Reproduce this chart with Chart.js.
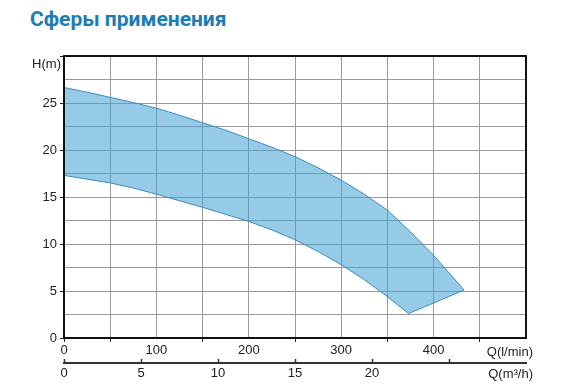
<!DOCTYPE html>
<html>
<head>
<meta charset="utf-8">
<script src="https://cdn.jsdelivr.net/npm/chart.js@4/dist/chart.umd.min.js"></script>
<style>
  html, body { margin: 0; padding: 0; background: #fff; }
  #wrap { position: relative; width: 587px; height: 392px; }
  #title {
    position: absolute; left: 30px; top: 7px;
    font: bold 21px Roboto, 'Noto Sans', sans-serif;
    color: #1b7db5; white-space: nowrap;
  }
  canvas { position: absolute; left: 0; top: 0; }
</style>
</head>
<body>
<div id="wrap">
  <div id="title">Сферы применения</div>
  <canvas id="chart" width="587" height="392"></canvas>
</div>
<script>
// upper edge of the working range, Q in l/min, H in m
const flowUpper = [0, 25, 50, 75, 100, 125, 150, 175, 200, 225, 250, 275, 300, 325, 350, 375, 400, 433];
const headUpper = [26.65, 26.15, 25.6, 25.05, 24.45, 23.7, 22.9, 22.1, 21.2, 20.3, 19.3, 18.1, 16.8, 15.3, 13.6, 11.3, 8.8, 5.1];
// lower edge
const flowLower = [0, 25, 50, 75, 100, 125, 150, 175, 200, 225, 250, 275, 300, 325, 350, 373];
const headLower = [17.3, 16.9, 16.5, 15.95, 15.3, 14.6, 13.9, 13.15, 12.4, 11.5, 10.45, 9.2, 7.8, 6.2, 4.4, 2.6];

const flowTicksLpm = [0, 100, 200, 300, 400];
const flowTicksM3h = [0, 5, 10, 15, 20];
const headTicks = [0, 5, 10, 15, 20, 25];

const labelFont = { family: 'Liberation Sans, Arial, sans-serif', size: 13 };
const gridColor = '#9a9a9a';

// closed outline: upper edge forward, lower edge back
const outline = [];
flowUpper.forEach((q, i) => outline.push({ x: q, y: headUpper[i] }));
for (let i = flowLower.length - 1; i >= 0; i--) outline.push({ x: flowLower[i], y: headLower[i] });
outline.push({ x: flowUpper[0], y: headUpper[0] });

const extras = {
  id: 'extras',
  afterDraw(chart) {
    const { ctx, chartArea: a, scales } = chart;
    ctx.save();
    // frame around plot
    ctx.strokeStyle = '#111';
    ctx.lineWidth = 2;
    ctx.strokeRect(a.left, a.top, a.right - a.left, a.bottom - a.top);

    // small upward ticks on the m3/h axis
    const x2 = scales.x2;
    ctx.strokeStyle = '#333';
    ctx.lineWidth = 1.5;
    for (let v = 0; v <= 25; v += 5) {
      const px = Math.round(x2.getPixelForValue(v)) + 0.5;
      ctx.beginPath();
      ctx.moveTo(px, x2.top);
      ctx.lineTo(px, x2.top - 4);
      ctx.stroke();
    }

    ctx.fillStyle = '#222';
    ctx.font = '13px Liberation Sans, Arial, sans-serif';
    ctx.textBaseline = 'middle';
    ctx.textAlign = 'right';
    ctx.fillText('H(m)', a.left - 3, 64);
    ctx.fillText('Q(l/min)', 533, 352);
    ctx.fillText('Q(m³/h)', 533, 374);
    ctx.restore();
  },
};

new Chart(document.getElementById('chart'), {
  type: 'scatter',
  data: {
    datasets: [
      {
        data: outline,
        showLine: true,
        fill: 'shape',
        tension: 0,
        borderColor: '#3a8dbf',
        borderWidth: 1,
        backgroundColor: 'rgba(64, 160, 211, 0.55)',
        pointRadius: 0,
      },
    ],
  },
  options: {
    responsive: false,
    animation: false,
    layout: { padding: { top: 56, right: 61, left: 0, bottom: 0 } },
    plugins: {
      legend: { display: false },
      tooltip: { enabled: false },
    },
    scales: {
      x: {
        type: 'linear',
        position: 'bottom',
        min: 0,
        max: 500,
        afterFit: (s) => { s.height = 25; },
        ticks: {
          stepSize: 50,
          autoSkip: false,
          maxRotation: 0,
          padding: 1,
          color: '#222',
          font: labelFont,
          callback: (v) => (flowTicksLpm.includes(v) ? String(v) : ''),
        },
        grid: {
          color: gridColor,
          tickLength: 4,
          tickColor: (c) => (c.tick && (c.tick.value === 0 || c.tick.value % 100 === 50) ? '#222' : 'rgba(0,0,0,0)'),
        },
        border: { color: '#111', width: 2 },
      },
      x2: {
        type: 'linear',
        position: 'bottom',
        min: 0,
        max: 30,
        afterFit: (s) => { s.height = 29; },
        ticks: {
          stepSize: 5,
          autoSkip: false,
          maxRotation: 0,
          padding: 3,
          color: '#222',
          font: labelFont,
          callback: (v) => (flowTicksM3h.includes(v) ? String(v) : ''),
        },
        grid: { display: false, drawTicks: false },
        border: { color: '#333', width: 2 },
      },
      y: {
        min: 0,
        max: 30,
        afterFit: (s) => { s.width = 64; },
        ticks: {
          stepSize: 2.5,
          autoSkip: false,
          padding: 3,
          color: '#222',
          font: labelFont,
          callback: (v) => (headTicks.includes(v) ? String(v) : ''),
        },
        grid: {
          color: gridColor,
          tickLength: 4,
          tickColor: (c) => (c.tick && c.tick.value % 5 === 0 ? '#222' : 'rgba(0,0,0,0)'),
        },
        border: { color: '#111', width: 2 },
      },
    },
  },
  plugins: [extras],
});
</script>
</body>
</html>
